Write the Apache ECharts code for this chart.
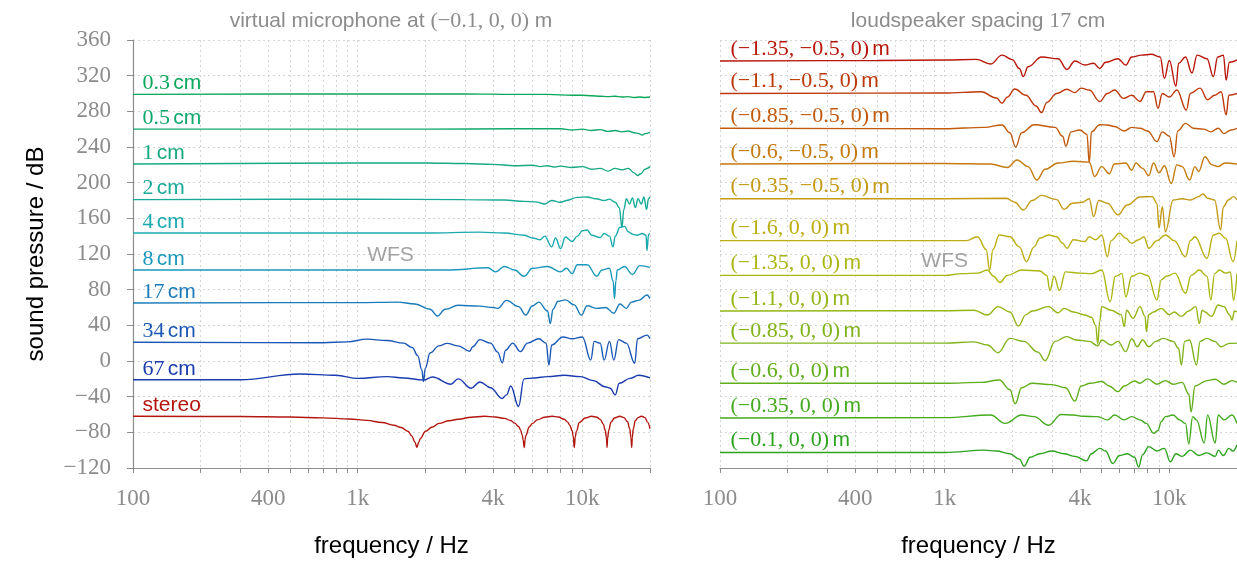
<!DOCTYPE html>
<html>
<head>
<meta charset="utf-8">
<style>
html, body { margin: 0; padding: 0; background: #fff; }
#chart { width: 1237px; height: 561px; }
</style>
<script src="https://cdn.jsdelivr.net/npm/echarts@6/dist/echarts.min.js"></script>
</head>
<body>
<div id="chart"></div>
<script>
// 坐标轴刻度
const xTickValues = [100, 400, 1000, 4000, 10000];
const xTickLabels = ['100', '400', '1k', '4k', '10k'];
const xGridValues = [100, 200, 300, 400, 500, 600, 700, 800, 900, 1000, 2000, 3000, 4000, 5000, 6000, 7000, 8000, 9000, 10000, 20000];
const yMin = -120, yMax = 360, yStep = 40;

// 左图: 虚拟麦克风 (WFS, 不同扬声器间距) + stereo
const micLabels = ['0.3', '0.5', '1', '2', '4', '8', '17', '34', '67'];
const micColors = ['#0ba75a', '#0fa86c', '#16a982', '#18aa98', '#1aaaae', '#1a98bc', '#1b7bba', '#1b58b6', '#1a3cae'];

const mic03 = [[100,299],[1000,299.5],[3000,299.5],[5000,299],[7000,299],[9000,298],[10000,298],[11000,297.5],[12000,297],[13000,296.5],[14000,297],[15000,296],[16000,296.5],[17000,295.5],[18000,296],[19000,295.5],[20000,296]];
const mic05 = [[100,260],[2000,260],[5000,260.5],[8000,260.5],[9000,259],[10000,260],[11000,258.5],[12000,259.5],[13000,257.5],[14000,258.5],[15000,257],[16000,258],[17000,256],[17800,255],[18500,253.5],[19000,255],[20000,256.5]];
const mic1 = [[100,221],[1000,222],[2000,222],[3000,221.5],[4000,220.5],[5000,219],[6000,219.5],[6500,218],[7000,219],[7500,217.5],[8000,218.5],[9000,217],[10000,218],[11000,215],[12000,216],[13000,213],[14000,216],[15000,214.5],[16000,216],[17000,211],[17600,208],[18200,210],[19000,215],[20000,218]];
const mic2 = [[100,181],[1000,181.5],[3000,181],[4500,180.5],[5500,179],[6200,178.5],[6800,176],[7300,180],[8000,178],[8500,180],[9500,183.5],[10500,184],[11500,182],[12500,180],[13200,181.5],[14000,178],[14600,172],[15000,150],[15300,170],[15700,182],[16200,176],[16700,183],[17200,172],[17700,182],[18300,176],[18800,184],[19300,170],[19700,182],[20000,184]];
const mic4 = [[100,143.5],[1000,143.5],[2000,143.5],[3500,144.5],[4500,143.5],[5500,141],[6000,138],[6500,136],[6800,140],[7300,128],[7600,138],[8000,126],[8400,139],[9000,134],[9500,140],[10000,146],[10500,147],[11000,141],[12000,138.5],[12500,143],[13200,140],[13700,128],[14000,140],[14700,150],[15400,151],[16000,145],[16800,142],[17500,141],[18500,143],[19200,141],[19400,124],[19700,142],[20000,143]];
const mic8 = [[100,102],[1000,102],[2500,102],[3800,104.5],[4100,100],[4500,106],[5000,102],[5500,95],[6000,104],[7000,106],[8000,100],[8500,104],[9000,98],[9500,108],[10500,108],[11600,95],[12200,102],[13200,104],[13700,90],[13900,70],[14100,90],[14300,102],[15400,106],[16700,97],[18000,107],[20000,105]];
const mic17 = [[100,65],[1000,65.5],[1500,66],[1800,64],[2100,58],[2266,50.5],[2450,58],[2800,62.5],[3500,61.5],[4000,60],[4200,59],[4600,68],[5200,61],[5600,51.5],[6000,62],[6400,66],[7000,56],[7200,42],[7400,58],[7800,67],[8400,68.5],[9200,63],[9900,51.5],[10500,62],[11600,59],[12700,60],[13800,53.5],[14700,64],[15700,59],[16500,66],[17800,68],[19400,74],[20000,70]];
const mic34 = [[100,21],[700,20.5],[900,21.5],[1100,24.5],[1350,23],[1600,20],[1750,15],[1850,6],[1930,-10],[1963,-23],[2000,-8],[2100,9],[2300,17],[2500,19.8],[2800,17],[3150,11],[3250,16],[3500,24],[3900,20],[4200,10],[4400,-2],[4550,12],[4900,20],[5300,10.5],[5700,20],[6400,25],[6900,20],[7100,-4.5],[7300,18],[8200,27],[9000,25],[10000,27],[10900,1],[11300,22],[12000,20],[12500,1],[13200,22],[13800,1],[14500,24],[15700,20],[17100,-2.6],[17600,25],[19400,29],[20000,25]];
const mic67 = [[100,-21],[300,-21],[555,-14.5],[800,-16],[1000,-19.5],[1350,-17.5],[1600,-19],[1963,-21.5],[2150,-18],[2600,-26],[2800,-20],[3200,-30.5],[3500,-23.5],[3900,-30],[4400,-42],[4600,-38],[4800,-28],[5200,-51],[5500,-20],[6100,-19],[7000,-17.5],[8300,-16],[9800,-17.5],[11200,-22],[12600,-28.8],[13300,-30.5],[14000,-38],[14600,-25],[16300,-19.5],[17800,-16],[20000,-19]];
const stereo = [[100,-62],[300,-62.2],[500,-62.8],[700,-63.8],[917,-65],[1100,-66.6],[1284,-69],[1450,-72],[1560,-74.6],[1680,-79],[1740,-84],[1800,-91],[1834,-97],[1870,-91],[1900,-87],[2000,-79],[2150,-74],[2300,-70],[2550,-67],[2800,-65.3],[3200,-63],[3668,-62],[4100,-62.8],[4500,-64.4],[4800,-66.8],[5000,-69.7],[5200,-73.5],[5300,-77],[5400,-83],[5450,-88.5],[5512,-97],[5560,-88],[5600,-83.5],[5800,-74],[6000,-70],[6300,-66],[6800,-63],[7336,-62],[7800,-62.8],[8300,-65.3],[8600,-68.5],[8800,-72.2],[9000,-78],[9100,-84],[9204,-97],[9300,-85],[9400,-79],[9700,-69],[10300,-64],[11000,-62],[11600,-63],[12000,-65.5],[12400,-70.8],[12650,-78],[12800,-86],[12877,-97],[12950,-87],[13100,-78],[13400,-68.7],[13900,-64],[14670,-62],[15300,-63.5],[15900,-68.2],[16250,-76],[16450,-86],[16580,-97],[16680,-86],[16850,-76],[17200,-67],[17700,-63.5],[18340,-62],[19000,-63.5],[19500,-68.5],[20000,-76]];
const micCurves = [mic03, mic05, mic1, mic2, mic4, mic8, mic17, mic34, mic67];
const stereoColor = '#b3160e';

// 右图: 扬声器间距 17 cm, 不同听音位置
const spkLabels = ['\u22121.35, \u22120.5, 0', '\u22121.1, \u22120.5, 0', '\u22120.85, \u22120.5, 0', '\u22120.6, \u22120.5, 0', '\u22120.35, \u22120.5, 0',
    '\u22121.6, 0, 0', '\u22121.35, 0, 0', '\u22121.1, 0, 0', '\u22120.85, 0, 0', '\u22120.6, 0, 0', '\u22120.35, 0, 0', '\u22120.1, 0, 0'];
const spkColors = ['#b8170b', '#bd380a', '#c15a0c', '#c47a0e', '#c49a16', '#bcae12', '#aab612', '#94b616', '#80b21a', '#60ae1a', '#44aa1e', '#2ca41e'];

const spk1 = [[100,336.5],[500,337],[1000,337.5],[1380,338.3],[1600,333],[1800,343],[2000,338],[2150,328],[2238,319],[2350,330],[2700,341],[3200,339],[3500,327],[3800,336.5],[4200,332],[4600,334],[4900,328],[5200,335],[5900,339],[6400,332],[6800,341],[7500,343],[8300,344],[9100,341],[9500,317],[10000,337],[10700,308],[11000,334],[11800,341],[12600,323],[13300,343],[14700,339],[15700,319],[16400,341],[17400,343],[17900,315],[18500,335],[20000,337.6]];
const spk2 = [[100,300],[1000,300.5],[1450,302],[1700,295],[1800,289],[1900,296],[2050,305],[2300,298],[2550,286],[2700,278.5],[2850,290],[3150,300],[3500,304.7],[3800,301],[4050,306],[4400,304],[4900,291],[5300,300],[5700,304],[6250,294.5],[6800,298],[7400,291],[7900,302],[8500,302],[8900,283.5],[9300,300],[10000,296],[10800,304],[11900,281.5],[12400,300],[13700,306],[14800,293],[15900,298],[17000,302],[17900,276],[18400,298],[20000,300]];
const spk3 = [[100,261],[1000,260.5],[1500,262],[1800,264.7],[1950,256],[2070,240],[2200,256],[2500,265],[3100,262],[3350,252],[3460,241],[3650,257],[4000,259],[4300,254],[4400,222],[4500,257],[4900,265],[5300,264.7],[5700,263],[6300,258],[6800,262],[7400,261],[8000,258],[8800,246],[9300,257],[10000,252],[10500,229],[10900,258],[11800,266.5],[12800,261],[14200,260],[15300,257],[16500,261],[17500,255],[18800,259],[20000,261]];
const spk4 = [[100,221],[1000,221.5],[1600,221],[1900,217],[2100,225.4],[2350,218],[2570,203],[2800,215],[3200,222],[3740,224],[4400,223],[4650,207],[5000,218],[5400,210],[5700,221],[6400,222],[6800,214],[7100,222],[7600,216],[8100,208],[8500,222],[9000,211],[9500,219],[10200,199],[10800,220],[11400,218],[12300,203],[13000,218],[13500,212.5],[14400,229],[15500,220],[16400,218],[17700,222],[20000,221]];
const spk5 = [[100,182],[1000,182],[1880,182.5],[2050,178],[2240,169.3],[2450,180],[2700,185.7],[3150,181],[3400,170],[3700,177],[4100,178],[4400,182],[4600,162],[4850,180],[5300,177],[5900,164],[6500,175],[7400,184],[8400,184.3],[8800,177],[9000,149],[9300,173],[9600,145],[10400,180.6],[11400,182],[12400,180.6],[13500,184.3],[14100,187.3],[14800,182.5],[15900,180.6],[16900,147],[17400,173],[18300,180.6],[19300,184.3],[20000,180.6]];
const spk6 = [[100,135],[1000,135],[1250,135],[1400,139.4],[1530,125],[1585,102],[1640,125],[1750,141.3],[1950,139.4],[2150,128],[2310,111.5],[2500,128],[2650,137.6],[2900,141.3],[3150,139.4],[3350,132],[3500,126.4],[3740,136],[4200,134],[4400,139.4],[4700,136],[5000,141.3],[5300,117],[5500,135],[6000,143.2],[6400,137.6],[6800,132],[7300,136],[7700,139.4],[8100,126.4],[8800,135],[9600,141.3],[10500,135],[11800,117],[12400,135],[13000,139.4],[14700,115],[15700,141.3],[16700,143.2],[17800,137.6],[19200,111.4],[20000,135]];
const spk7 = [[100,96],[1000,96],[1200,98],[1400,98.5],[1550,102],[1650,95],[1760,88],[1900,96],[2200,102],[2650,101],[2850,96],[2940,79],[3070,95],[3240,79],[3450,100],[4000,98.5],[4500,98],[5000,102],[5450,66.5],[5750,95],[6150,98],[6400,72],[6800,95],[7400,98.5],[8000,96],[8800,68.4],[9200,91],[9700,95],[10600,98.5],[11800,76],[12500,96],[13600,102],[14700,95],[15300,68.4],[15900,98],[16700,102],[17800,98.5],[18700,100],[19300,68],[20000,98]];
const spk8 = [[100,56],[1000,56.4],[1350,57],[1550,51.6],[1730,61],[1950,55],[2130,39.3],[2300,52],[2450,56],[2900,61],[3200,54],[3400,59],[3740,55],[4200,51.6],[4500,49],[4700,40],[4800,19],[4900,45],[5000,61],[5500,57],[6100,52],[6300,38.5],[6450,57],[6900,48],[7400,61],[7800,50],[7900,33],[8100,52],[8500,55],[9200,59],[10000,52],[10500,55],[11300,50],[12200,56],[13100,61],[13600,42],[14000,57],[14400,55],[15400,50],[16500,62.8],[17500,61],[18500,52],[19000,46],[19500,56],[20000,55]];
const spk9 = [[100,20],[1000,20],[1350,21.5],[1550,18],[1730,9.3],[1950,25.4],[2250,22],[2600,10],[2800,0.4],[3100,22],[3500,27.3],[3850,23.6],[4400,22],[4800,17],[5000,23.6],[5500,18],[5900,22],[6400,10.5],[6800,25],[7200,16],[7600,23.6],[8100,16],[8700,22],[9400,25.4],[10400,22],[11000,14],[11300,-4.5],[11700,22],[12300,23.6],[13200,-4.5],[13700,22],[14700,25.4],[15900,22],[17000,16],[18500,19.8],[20000,20]];
const spk10 = [[100,-25],[1000,-25],[1450,-24],[1750,-21.3],[1950,-32],[2060,-48],[2200,-30],[2450,-25],[3000,-26.5],[3450,-30],[3800,-45],[4050,-28],[4450,-25],[5000,-23],[5400,-28],[5900,-34.4],[6300,-28],[7000,-22.5],[7400,-25],[8000,-20],[8800,-26],[9600,-22],[10400,-26],[11400,-24],[12200,-37],[12500,-57],[13000,-28],[14700,-22],[16000,-20.5],[17500,-26],[19000,-22],[20000,-24]];
const spk11 = [[100,-64],[1000,-63.5],[1600,-60.6],[1860,-70],[2200,-60.6],[2500,-62.4],[2900,-72],[3300,-60],[3740,-60.6],[4100,-62],[4800,-62.4],[5300,-66],[5700,-60.6],[6300,-66],[6800,-62.4],[7400,-66],[7900,-70],[8500,-81],[8900,-78],[9200,-68],[9600,-62.4],[10400,-60.6],[11100,-66],[11800,-70],[12200,-93],[12700,-62.4],[13200,-66],[14300,-92],[14800,-60.6],[16000,-92],[16500,-60.6],[17500,-66],[19000,-60.6],[20000,-70]];
const spk12 = [[100,-102.6],[1000,-102.6],[1500,-100],[1700,-101],[1950,-104],[2150,-110],[2260,-118],[2400,-108],[2650,-104],[3000,-101],[3400,-104],[3800,-107],[4280,-112],[4500,-104],[4900,-98],[5200,-101],[5600,-115],[6000,-106],[6500,-104],[7000,-108],[7300,-119],[7600,-105],[8100,-96],[8800,-101],[9500,-98],[10100,-113],[10700,-104],[11400,-107],[12400,-100],[13500,-106],[14700,-103],[16000,-107],[16500,-100],[17400,-106],[18400,-98],[19200,-101],[20000,-94]];
const spkCurves = [spk1, spk2, spk3, spk4, spk5, spk6, spk7, spk8, spk9, spk10, spk11, spk12];

// WFS 文字位置 [频率, dB]
const wfsLeft = [1400, 119];
const wfsRight = [1000, 112];

const gray = '#8c8c8c';
const serif = 'Liberation Serif';
const sans = 'Liberation Sans';

const dom = document.getElementById('chart');
const myChart = echarts.init(dom, null, { renderer: 'canvas' });

function lineSeries(data, color, idx, text, dx, dy) {
    return {
        type: 'line',
        xAxisIndex: idx,
        yAxisIndex: idx,
        data: data,
        symbol: 'none',
        showSymbol: false,
        smooth: 0.4,
        smoothMonotone: 'x',
        silent: true,
        animation: false,
        lineStyle: { color: color, width: 1.4 },
        itemStyle: { color: color },
        markPoint: {
            symbol: 'circle',
            symbolSize: 1,
            silent: true,
            animation: false,
            itemStyle: { color: 'rgba(0,0,0,0)' },
            label: {
                show: true,
                position: 'right',
                offset: [dx, dy],
                formatter: text,
                rich: {
                    n: { fontFamily: serif, fontSize: 22, color: color },
                    u: { fontFamily: sans, fontSize: 21, color: color }
                }
            },
            data: [{ coord: [data[0][0], data[0][1]] }]
        }
    };
}

function xAxisOf(idx) {
    return {
        gridIndex: idx,
        type: 'log',
        logBase: 10,
        min: 100,
        max: 20000,
        axisLine: { show: true, onZero: false, lineStyle: { color: gray, width: 1.2 } },
        axisTick: { show: true, inside: false, length: 5, customValues: xGridValues, lineStyle: { color: gray } },
        axisLabel: {
            customValues: xTickValues,
            color: gray,
            fontFamily: serif,
            fontSize: 23,
            margin: 19,
            formatter: function (v) {
                const i = xTickValues.findIndex(t => Math.abs(t - v) / t < 1e-6);
                return i >= 0 ? xTickLabels[i] : '';
            }
        },
        minorTick: { show: false },
        splitLine: { show: true, lineStyle: { color: '#d4d4d4', type: [2, 3], width: 1 } },
        name: 'frequency / Hz',
        nameLocation: 'middle',
        nameGap: 66,
        nameTextStyle: { color: '#000', fontFamily: sans, fontSize: 24 }
    };
}

const seriesArr = [];
micCurves.forEach((d, i) => {
    seriesArr.push(lineSeries(d, micColors[i], 0, '{n|' + micLabels[i] + '} {u|cm}', 4, -11));
});
seriesArr.push(lineSeries(stereo, stereoColor, 0, '{u|stereo}', 4, -11));
spkCurves.forEach((d, i) => {
    seriesArr.push(lineSeries(d, spkColors[i], 1, '{n|(' + spkLabels[i] + ')} {u|m}', 5, -12));
});
[[wfsLeft, 0], [wfsRight, 1]].forEach(([p, idx]) => {
    seriesArr.push({
        type: 'scatter',
        xAxisIndex: idx,
        yAxisIndex: idx,
        data: [p],
        symbolSize: 1,
        silent: true,
        animation: false,
        itemStyle: { color: 'rgba(0,0,0,0)' },
        label: { show: true, position: 'inside', formatter: 'WFS', color: gray, fontFamily: sans, fontSize: 21 }
    });
});

const titleRich = {
    a: { fontFamily: sans, fontSize: 21, fontWeight: 'normal', color: gray },
    b: { fontFamily: serif, fontSize: 22, fontWeight: 'normal', color: gray }
};

const option = {
    backgroundColor: '#fff',
    animation: false,
    title: [
        {
            text: '{a|virtual microphone at }{b|(\u22120.1, 0, 0)}{a| m}',
            left: 391, top: 10, textAlign: 'center', padding: 0,
            textStyle: { fontWeight: 'normal', rich: titleRich }
        },
        {
            text: '{a|loudspeaker spacing }{b|17}{a| cm}',
            left: 978, top: 10, textAlign: 'center', padding: 0,
            textStyle: { fontWeight: 'normal', rich: titleRich }
        }
    ],
    grid: [
        { left: 133, top: 40, width: 517, height: 428, containLabel: false, outerBoundsMode: 'none' },
        { left: 720, top: 40, width: 517, height: 428, containLabel: false, outerBoundsMode: 'none' }
    ],
    xAxis: [xAxisOf(0), xAxisOf(1)],
    yAxis: [
        {
            gridIndex: 0,
            type: 'value',
            min: yMin, max: yMax, interval: yStep,
            axisLine: { show: true, lineStyle: { color: gray, width: 1.2 } },
            axisTick: { show: true, inside: false, length: 6, lineStyle: { color: gray } },
            axisLabel: {
                color: gray, fontFamily: serif, fontSize: 23, margin: 22,
                formatter: v => String(v).replace('-', '\u2212')
            },
            splitLine: { show: true, lineStyle: { color: '#d4d4d4', type: [2, 3], width: 1 } },
            name: 'sound pressure / dB',
            nameLocation: 'middle',
            nameGap: 85,
            nameTextStyle: { color: '#000', fontFamily: sans, fontSize: 24 }
        },
        {
            gridIndex: 1,
            type: 'value',
            min: yMin, max: yMax, interval: yStep,
            axisLine: { show: false },
            axisTick: { show: false },
            axisLabel: { show: false },
            splitLine: { show: true, lineStyle: { color: '#d4d4d4', type: [2, 3], width: 1 } }
        }
    ],
    series: seriesArr
};

myChart.setOption(option);

window.addEventListener('resize', function () {
    myChart.resize();
});
</script>
</body>
</html>
